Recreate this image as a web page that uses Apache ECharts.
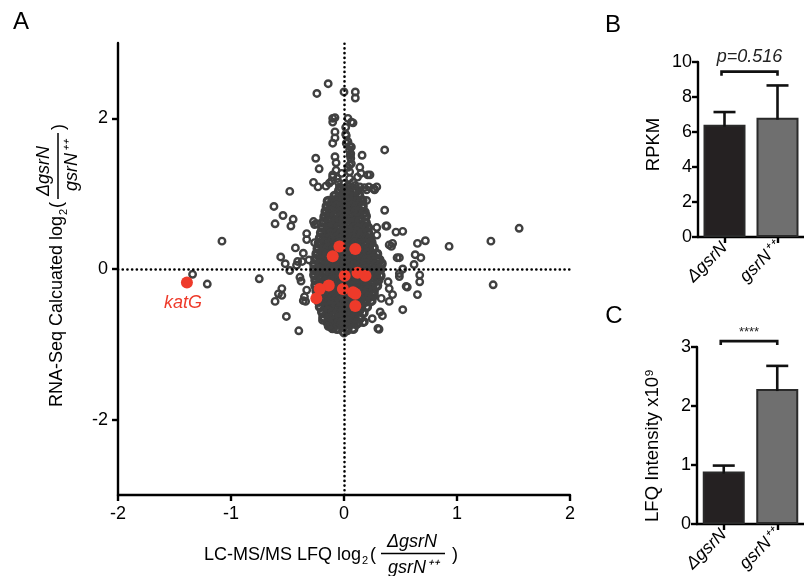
<!DOCTYPE html>
<html>
<head>
<meta charset="utf-8">
<script src="https://cdn.jsdelivr.net/npm/echarts@6/dist/echarts.min.js"></script>
<style>html,body{margin:0;padding:0;background:#fff;}#c{width:804px;height:576px;}</style>
</head>
<body>
<div id="c"></div>
<script>
// ---------- Panel A data (x: LC-MS/MS LFQ log2 ratio, y: RNA-Seq log2 ratio) ----------
const corePoints = [
[-0.04,1.04],[0.00,1.03],[0.04,1.05],[0.08,1.03],[0.11,1.04],
[-0.08,0.97],[-0.04,0.96],[0.00,0.98],[0.05,0.97],[0.09,0.96],[0.13,0.98],
[-0.14,0.90],[-0.10,0.91],[-0.05,0.89],[-0.01,0.90],[0.03,0.91],[0.07,0.89],[0.12,0.90],[0.16,0.91],
[-0.15,0.83],[-0.11,0.82],[-0.06,0.84],[-0.02,0.83],[0.02,0.82],[0.07,0.84],[0.11,0.83],[0.16,0.82],
[-0.16,0.76],[-0.12,0.77],[-0.07,0.75],[-0.03,0.76],[0.02,0.77],[0.06,0.75],[0.10,0.76],[0.14,0.77],[0.18,0.75],
[-0.17,0.69],[-0.12,0.68],[-0.08,0.70],[-0.03,0.69],[0.01,0.68],[0.05,0.70],[0.10,0.69],[0.14,0.68],[0.19,0.70],
[-0.18,0.62],[-0.13,0.63],[-0.09,0.61],[-0.04,0.62],[0.00,0.63],[0.05,0.61],[0.09,0.62],[0.14,0.63],[0.19,0.61],
[-0.19,0.55],[-0.14,0.54],[-0.10,0.56],[-0.05,0.55],[0.00,0.54],[0.04,0.56],[0.09,0.55],[0.13,0.54],[0.18,0.56],[0.21,0.55],
[-0.20,0.48],[-0.15,0.49],[-0.11,0.47],[-0.06,0.48],[-0.02,0.49],[0.03,0.47],[0.07,0.48],[0.12,0.49],[0.16,0.47],[0.21,0.48],
[-0.21,0.41],[-0.16,0.40],[-0.12,0.42],[-0.07,0.41],[-0.03,0.40],[0.02,0.42],[0.06,0.41],[0.11,0.40],[0.15,0.42],[0.20,0.41],[0.23,0.40],
[-0.22,0.34],[-0.17,0.35],[-0.13,0.33],[-0.08,0.34],[-0.04,0.35],[0.01,0.33],[0.05,0.34],[0.10,0.35],[0.14,0.33],[0.19,0.34],[0.24,0.35],
[-0.23,0.27],[-0.18,0.26],[-0.14,0.28],[-0.09,0.27],[-0.05,0.26],[0.00,0.28],[0.04,0.27],[0.09,0.26],[0.13,0.28],[0.18,0.27],[0.22,0.26],[0.26,0.28],
[-0.24,0.20],[-0.19,0.21],[-0.15,0.19],[-0.10,0.20],[-0.06,0.21],[-0.01,0.19],[0.03,0.20],[0.08,0.21],[0.12,0.19],[0.17,0.20],[0.21,0.21],[0.25,0.19],[0.29,0.20],
[-0.25,0.13],[-0.20,0.12],[-0.16,0.14],[-0.11,0.13],[-0.07,0.12],[-0.02,0.14],[0.02,0.13],[0.07,0.12],[0.11,0.14],[0.16,0.13],[0.20,0.12],[0.25,0.14],[0.29,0.13],[0.31,0.12],
[-0.26,0.06],[-0.21,0.07],[-0.17,0.05],[-0.12,0.06],[-0.08,0.07],[-0.03,0.05],[0.01,0.06],[0.06,0.07],[0.10,0.05],[0.15,0.06],[0.19,0.07],[0.24,0.05],[0.28,0.06],[0.33,0.07],
[-0.26,-0.01],[-0.22,0.00],[-0.17,-0.02],[-0.13,-0.01],[-0.08,0.00],[-0.04,-0.02],[0.01,-0.01],[0.05,0.00],[0.10,-0.02],[0.14,-0.01],[0.19,0.00],[0.23,-0.02],[0.28,-0.01],[0.32,0.00],
[-0.26,-0.08],[-0.21,-0.09],[-0.17,-0.07],[-0.12,-0.08],[-0.08,-0.09],[-0.03,-0.07],[0.01,-0.08],[0.06,-0.09],[0.10,-0.07],[0.15,-0.08],[0.19,-0.09],[0.24,-0.07],[0.28,-0.08],[0.32,-0.09],
[-0.25,-0.15],[-0.20,-0.14],[-0.16,-0.16],[-0.11,-0.15],[-0.07,-0.14],[-0.02,-0.16],[0.02,-0.15],[0.07,-0.14],[0.11,-0.16],[0.16,-0.15],[0.20,-0.14],[0.25,-0.16],[0.30,-0.15],
[-0.25,-0.22],[-0.20,-0.23],[-0.15,-0.21],[-0.11,-0.22],[-0.06,-0.23],[-0.02,-0.21],[0.03,-0.22],[0.07,-0.23],[0.12,-0.21],[0.16,-0.22],[0.21,-0.23],[0.25,-0.21],[0.29,-0.22],
[-0.24,-0.29],[-0.19,-0.28],[-0.15,-0.30],[-0.10,-0.29],[-0.06,-0.28],[-0.01,-0.30],[0.03,-0.29],[0.08,-0.28],[0.12,-0.30],[0.17,-0.29],[0.21,-0.28],[0.26,-0.30],
[-0.23,-0.36],[-0.18,-0.37],[-0.14,-0.35],[-0.09,-0.36],[-0.05,-0.37],[0.00,-0.35],[0.04,-0.36],[0.09,-0.37],[0.13,-0.35],[0.18,-0.36],[0.22,-0.37],[0.26,-0.35],
[-0.22,-0.43],[-0.17,-0.42],[-0.13,-0.44],[-0.08,-0.43],[-0.04,-0.42],[0.01,-0.44],[0.05,-0.43],[0.10,-0.42],[0.14,-0.44],[0.19,-0.43],[0.24,-0.42],
[-0.21,-0.50],[-0.16,-0.51],[-0.12,-0.49],[-0.07,-0.50],[-0.03,-0.51],[0.02,-0.49],[0.06,-0.50],[0.11,-0.51],[0.15,-0.49],[0.20,-0.50],
[-0.19,-0.57],[-0.14,-0.56],[-0.10,-0.58],[-0.05,-0.57],[-0.01,-0.56],[0.04,-0.58],[0.08,-0.57],[0.13,-0.56],[0.17,-0.58],
[-0.18,-0.64],[-0.13,-0.65],[-0.09,-0.63],[-0.04,-0.64],[0.00,-0.65],[0.05,-0.63],[0.09,-0.64],[0.14,-0.65],
[-0.14,-0.71],[-0.10,-0.70],[-0.05,-0.72],[-0.01,-0.71],[0.04,-0.70],[0.08,-0.72],[0.12,-0.71],
[-0.10,-0.78],[-0.06,-0.79],[-0.01,-0.77],[0.03,-0.78],[0.08,-0.79]
];
const outerPoints = [
[-0.14,2.46],[-0.24,2.33],[0.00,2.35],[0.10,2.35],[0.10,2.27],
[-0.10,2.00],[-0.08,2.01],[-0.10,1.95],[0.035,2.00],[0.065,1.95],[0.08,1.94],
[0.015,1.88],[-0.08,1.82],[0.015,1.79],[0.02,1.77],[-0.08,1.74],[0.035,1.69],[-0.10,1.67],
[0.02,1.67],[0.05,1.63],[0.065,1.62],[0.05,1.58],[0.36,1.58],[0.16,1.51],[0.055,1.51],[-0.25,1.47],
[-0.08,1.49],[-0.07,1.41],[0.06,1.53],[0.06,1.47],[0.065,1.40],[0.05,1.38],[0.035,1.35],
[-0.22,1.33],[0.14,1.35],[0.05,1.29],[0.15,1.27],[0.21,1.25],[0.23,1.25],[0.12,1.22],
[-0.07,1.31],[-0.10,1.25],[-0.02,1.27],[-0.06,1.20],[-0.10,1.22],[-0.11,1.17],[0.05,1.20],[0.08,1.15],[-0.05,1.15],[0.00,1.13],
[-0.27,1.15],[-0.23,1.09],[-0.16,1.10],[-0.13,1.14],[-0.48,1.03],
[-0.04,1.09],[0.03,1.10],[0.07,1.09],[0.10,1.11],[0.14,1.09],[0.18,1.08],[0.20,1.05],[0.22,1.09],[0.26,1.07],[0.29,1.09],[0.27,1.05],
[-0.62,0.83],[-0.54,0.71],[-0.61,0.60],[-0.45,0.66],[-0.47,0.57],[-1.08,0.37],
[-0.27,0.63],[-0.26,0.59],[-0.24,0.60],[-0.33,0.47],[-0.33,0.39],[-0.26,0.35],
[-0.43,0.28],[-0.56,0.16],[-0.52,0.07],[-0.36,0.21],[-0.37,0.10],[-0.41,0.10],[-0.31,0.12],
[-0.42,0.05],[-0.48,-0.02],[-0.75,-0.13],[-0.39,-0.11],[-0.38,-0.16],[-1.21,-0.20],[-1.34,-0.07],
[-0.55,-0.26],[-0.58,-0.33],[-0.55,-0.35],[-0.61,-0.43],[-0.33,-0.28],[-0.35,-0.37],[-0.34,-0.43],[-0.36,-0.42],
[-0.51,-0.63],[-0.40,-0.82],[-0.19,-0.68],[-0.13,-0.76],[-0.10,-0.79],[-0.14,-0.76],
[0.27,1.06],[0.36,0.78],[0.20,0.91],[0.17,0.84],[0.37,0.57],[0.38,0.57],[0.46,0.49],[0.52,0.50],
[0.29,0.55],[0.29,0.45],[0.40,0.32],[0.43,0.34],[0.42,0.30],[0.47,0.15],[0.52,0.00],[0.49,-0.06],
[0.55,-0.23],[0.39,-0.17],[0.40,-0.26],[0.43,-0.34],[0.40,-0.43],[0.33,-0.39],[0.52,-0.54],
[0.32,-0.57],[0.34,-0.62],[0.25,-0.66],[0.30,-0.79],[0.31,-0.80],[0.18,-0.70],[0.11,-0.74],[0.17,-0.71],
[-0.01,-0.83],[0.03,-0.82],[0.00,-0.85],
[0.65,0.34],[0.72,0.375],[0.93,0.30],[0.63,0.19],[0.68,0.15],[0.62,0.06],[0.67,-0.08],[0.67,-0.17],
[0.56,-0.24],[0.65,-0.34],[0.49,0.15],[0.49,-0.10],[1.55,0.54],[1.30,0.37],[1.32,-0.21]
];
const highlightPoints = [
[-0.04,0.30],[0.10,0.265],[-0.10,0.17],[0.006,-0.09],[0.12,-0.05],[0.19,-0.09],
[-0.135,-0.22],[-0.215,-0.265],[-0.245,-0.39],[-0.01,-0.265],[0.08,-0.31],[0.10,-0.33],[0.10,-0.49]
];
const katGPoint = [-1.39,-0.18];
const katGLabel = 'katG';
const xTicksA = [-2,-1,0,1,2];
const yTicksA = [-2,0,2];

// ---------- Panels B and C ----------
const groups = ['ΔgsrN','gsrN⁺⁺'];
const rpkmMean = [6.42, 6.82];
const rpkmUpper = [7.14, 8.66];
const rpkmP = 'p=0.516';
const lfqMean = [0.888, 2.287];
const lfqUpper = [0.99, 2.68];
const lfqP = '****';

const FONT = '"Liberation Sans", Arial, Helvetica, sans-serif';
const INK = '#000';
const RING = '#404040';
const RED = '#ee3a2a';

const chart = echarts.init(document.getElementById('c'), null, {renderer:'canvas'});

function errRender(params, api) {
  const m = api.coord([api.value(0), api.value(1)]);
  const u = api.coord([api.value(0), api.value(2)]);
  const half = 11;
  return {type:'group', children:[
    {type:'line', shape:{x1:m[0], y1:m[1]+2, x2:u[0], y2:u[1]}, style:{stroke:'#111', lineWidth:2.6}},
    {type:'line', shape:{x1:u[0]-half, y1:u[1], x2:u[0]+half, y2:u[1]}, style:{stroke:'#111', lineWidth:2.6}}
  ]};
}
function sigRender(fontSize, textGap, italic) {
  return function(params, api) {
    const a = api.coord([0, api.value(1)]);
    const b = api.coord([1, api.value(1)]);
    const x0 = a[0] - 3, x1 = b[0], y = a[1];
    return {type:'group', children:[
      {type:'polyline', shape:{points:[[x0,y+4],[x0,y],[x1,y],[x1,y+4]]}, style:{stroke:'#111', lineWidth:2.6, fill:null}},
      {type:'text', x:(x0+x1)/2, y:y-textGap, style:{text:api.value(2), fontSize:fontSize, fontStyle: italic?'italic':'normal', fontFamily:FONT, fill:'#222', align:'center', verticalAlign:'middle'}}
    ]};
  };
}

const tickLabel = {color:INK, fontSize:18, fontFamily:FONT};
const axLine = {show:true, lineStyle:{color:INK, width:2.4}};
const axTick = {show:true, inside:false, length:6, lineStyle:{color:INK, width:2.4}};
const T18 = {fontSize:18, fontFamily:FONT, fill:INK, verticalAlign:'middle'};

const catAxis = (gi) => ({
  type:'category', gridIndex:gi, data:groups,
  axisLine:axLine, axisTick:Object.assign({alignWithLabel:true}, axTick),
  axisLabel:{color:INK, fontSize:17.5, fontFamily:FONT, fontStyle:'italic', rotate:45, interval:0, margin:8},
  splitLine:{show:false}
});

const option = {
  animation:false,
  backgroundColor:'#fff',
  textStyle:{fontFamily:FONT},
  grid:[
    {left:118, top:43, width:452, height:452, containLabel:false},
    {left:698, top:62, width:116, height:175, containLabel:false},
    {left:697, top:347, width:116, height:177, containLabel:false}
  ],
  xAxis:[
    {type:'value', gridIndex:0, min:-2, max:2, interval:1,
     axisLine:Object.assign({onZero:false}, axLine), axisTick:axTick,
     axisLabel:Object.assign({margin:10, customValues:xTicksA}, tickLabel), splitLine:{show:false}},
    catAxis(1), catAxis(2)
  ],
  yAxis:[
    {type:'value', gridIndex:0, min:-3, max:3,
     axisLine:Object.assign({onZero:false}, axLine),
     axisTick:Object.assign({customValues:yTicksA}, axTick),
     axisLabel:Object.assign({margin:10, customValues:yTicksA}, tickLabel), splitLine:{show:false}},
    {type:'value', gridIndex:1, min:0, max:10, interval:2,
     axisLine:axLine, axisTick:axTick, axisLabel:Object.assign({margin:6}, tickLabel), splitLine:{show:false},
     name:'RPKM', nameLocation:'middle', nameGap:35,
     nameTextStyle:{color:INK, fontSize:18.5, fontFamily:FONT, padding:[0,0,0,10]}},
    {type:'value', gridIndex:2, min:0, max:3, interval:1,
     axisLine:axLine, axisTick:axTick, axisLabel:Object.assign({margin:6}, tickLabel), splitLine:{show:false},
     name:'LFQ Intensity x10⁹', nameLocation:'middle', nameGap:35,
     nameTextStyle:{color:INK, fontSize:18.5, fontFamily:FONT, padding:[0,20,0,0]}}
  ],
  series:[
    {type:'scatter', xAxisIndex:0, yAxisIndex:0, data:corePoints,
     symbol:'circle', symbolSize:7.5, silent:true,
     itemStyle:{color:'rgba(0,0,0,0)', borderColor:RING, borderWidth:3.6, opacity:1}, z:2},
    {type:'scatter', xAxisIndex:0, yAxisIndex:0, data:outerPoints,
     symbol:'circle', symbolSize:6.5, silent:true,
     itemStyle:{color:'rgba(0,0,0,0)', borderColor:RING, borderWidth:2.4, opacity:1}, z:2},
    {type:'scatter', xAxisIndex:0, yAxisIndex:0, data:highlightPoints,
     symbol:'circle', symbolSize:12, silent:true, itemStyle:{color:RED, opacity:1}, z:3},
    {type:'scatter', xAxisIndex:0, yAxisIndex:0,
     data:[{value:katGPoint, label:{show:true, formatter:katGLabel, position:'bottom', distance:5, offset:[-4,0],
       color:RED, fontSize:18, fontStyle:'italic', fontFamily:FONT}}],
     symbol:'circle', symbolSize:12, silent:true, itemStyle:{color:RED, opacity:1}, z:3},
    {type:'scatter', xAxisIndex:0, yAxisIndex:0, data:[], silent:true, z:5,
     markLine:{silent:true, symbol:'none', label:{show:false}, animation:false,
       lineStyle:{color:'#000', width:2.6, type:[0.1,4.6], cap:'round'},
       data:[{xAxis:0},{yAxis:0}]}},
    {type:'bar', xAxisIndex:1, yAxisIndex:1, barWidth:42, silent:true,
     data:[{value:rpkmMean[0], itemStyle:{color:'#252122'}}, {value:rpkmMean[1], itemStyle:{color:'#6f6f6f'}}],
     itemStyle:{borderColor:'#2a2a2a', borderWidth:2}},
    {type:'custom', xAxisIndex:1, yAxisIndex:1, renderItem:errRender, silent:true, z:4,
     data:groups.map((g,i)=>[i, rpkmMean[i], rpkmUpper[i]]), encode:{x:0, y:[1,2]}},
    {type:'custom', xAxisIndex:1, yAxisIndex:1, renderItem:sigRender(18,15,true), silent:true, clip:false, z:4,
     data:[[0, 9.45, rpkmP]], encode:{y:1}},
    {type:'bar', xAxisIndex:2, yAxisIndex:2, barWidth:42, silent:true,
     data:[{value:lfqMean[0], itemStyle:{color:'#252122'}}, {value:lfqMean[1], itemStyle:{color:'#6f6f6f'}}],
     itemStyle:{borderColor:'#2a2a2a', borderWidth:2}},
    {type:'custom', xAxisIndex:2, yAxisIndex:2, renderItem:errRender, silent:true, z:4,
     data:groups.map((g,i)=>[i, lfqMean[i], lfqUpper[i]]), encode:{x:0, y:[1,2]}},
    {type:'custom', xAxisIndex:2, yAxisIndex:2, renderItem:sigRender(13,9,false), silent:true, clip:false, z:4,
     data:[[0, 3.1, lfqP]], encode:{y:1}}
  ],
  graphic:[
    {type:'text', x:21, y:22, style:{text:'A', fontSize:24, fontFamily:FONT, fill:INK, align:'center', verticalAlign:'middle'}},
    {type:'text', x:613, y:25, style:{text:'B', fontSize:24, fontFamily:FONT, fill:INK, align:'center', verticalAlign:'middle'}},
    {type:'text', x:614, y:316, style:{text:'C', fontSize:24, fontFamily:FONT, fill:INK, align:'center', verticalAlign:'middle'}},
    // x-axis title of A
    {type:'group', x:0, y:0, children:[
      {type:'text', x:361, y:555, style:Object.assign({text:'LC-MS/MS LFQ log', align:'right'}, T18)},
      {type:'text', x:362, y:561, style:{text:'2', fontSize:11, fontFamily:FONT, fill:INK, align:'left', verticalAlign:'middle'}},
      {type:'text', x:370, y:555, style:Object.assign({text:'(', align:'left'}, T18)},
      {type:'line', shape:{x1:381, y1:553.5, x2:445, y2:553.5}, style:{stroke:INK, lineWidth:1.5}},
      {type:'text', x:412, y:542, style:Object.assign({text:'ΔgsrN', fontStyle:'italic', align:'center'}, T18)},
      {type:'text', x:413, y:568, style:Object.assign({text:'gsrN⁺⁺', fontStyle:'italic', align:'center'}, T18)},
      {type:'text', x:452, y:555, style:Object.assign({text:')', align:'left'}, T18)}
    ]},
    // y-axis title of A (rotated)
    {type:'group', x:57, y:415, rotation:Math.PI/2, children:[
      {type:'text', x:199, y:0, style:Object.assign({text:'RNA-Seq Calcuated log', align:'right'}, T18)},
      {type:'text', x:200, y:7, style:{text:'2', fontSize:11, fontFamily:FONT, fill:INK, align:'left', verticalAlign:'middle'}},
      {type:'text', x:207, y:0, style:Object.assign({text:'(', align:'left'}, T18)},
      {type:'line', shape:{x1:216, y1:1, x2:282, y2:1}, style:{stroke:INK, lineWidth:1.5}},
      {type:'text', x:244, y:-13, style:Object.assign({text:'ΔgsrN', fontStyle:'italic', align:'center'}, T18)},
      {type:'text', x:249, y:15, style:Object.assign({text:'gsrN⁺⁺', fontStyle:'italic', align:'center'}, T18)},
      {type:'text', x:285, y:2, style:Object.assign({text:')', align:'left'}, T18)}
    ]}
  ]
};
chart.setOption(option);
</script>
</body>
</html>
